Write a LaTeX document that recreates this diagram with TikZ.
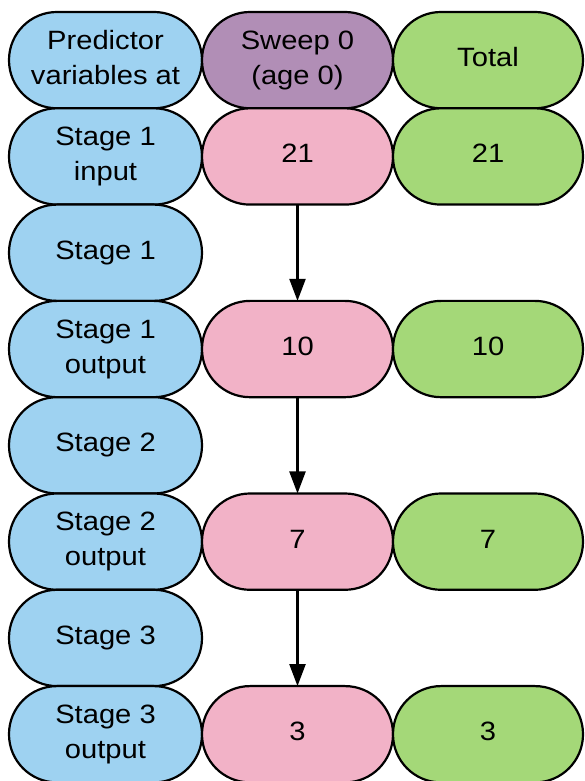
\documentclass[tikz,border=0pt]{standalone}
\usepackage{fontspec}
\setmainfont[FakeStretch=1.1]{Liberation Sans}
\usetikzlibrary{arrows.meta}
\definecolor{cblue}{RGB}{158,210,241}
\definecolor{cpurple}{RGB}{177,142,182}
\definecolor{cpink}{RGB}{242,178,199}
\definecolor{cgreen}{RGB}{164,216,120}
\begin{document}
\begin{tikzpicture}[x=1pt,y=1pt,
  cell/.style={draw=black, line width=2.2pt, rounded corners=48pt, minimum height=96.3pt,
    inner sep=0pt, outer sep=0pt, align=center, text=black, text depth=5.5pt,
    font=\fontsize{26.5}{35}\selectfont},
  lcell/.style={cell, fill=cblue, minimum width=193pt},
  mcell/.style={cell, fill=cpink, minimum width=191pt},
  rcell/.style={cell, fill=cgreen, minimum width=190pt},
  flow/.style={draw=black, line width=2.2pt, -{Triangle[width=16pt,length=22pt]}}
]
\useasboundingbox (0,0) rectangle (584,781);
\fill[white] (0,0) rectangle (584,781);
% row centres: y = 781 - (12 + 48.15 + k*96.3)
\def\rowy#1{781-60.15-#1*96.3}
\node[lcell] (l1) at (105.5,{\rowy{0}}) {Predictor\\variables at};
\node[cell, fill=cpurple, minimum width=191pt] (m1) at (297.5,{\rowy{0}}) {Sweep 0\\(age 0)};
\node[rcell] (r1) at (488,{\rowy{0}}) {Total};

\node[lcell] (l2) at (105.5,{\rowy{1}}) {Stage 1\\input};
\node[mcell] (m2) at (297.5,{\rowy{1}}) {21};
\node[rcell] (r2) at (488,{\rowy{1}}) {21};

\node[lcell] (l3) at (105.5,{\rowy{2}}) {Stage 1};

\node[lcell] (l4) at (105.5,{\rowy{3}}) {Stage 1\\output};
\node[mcell] (m4) at (297.5,{\rowy{3}}) {10};
\node[rcell] (r4) at (488,{\rowy{3}}) {10};

\node[lcell] (l5) at (105.5,{\rowy{4}}) {Stage 2};

\node[lcell] (l6) at (105.5,{\rowy{5}}) {Stage 2\\output};
\node[mcell] (m6) at (297.5,{\rowy{5}}) {7};
\node[rcell] (r6) at (488,{\rowy{5}}) {7};

\node[lcell] (l7) at (105.5,{\rowy{6}}) {Stage 3};

\node[lcell] (l8) at (105.5,{\rowy{7}}) {Stage 3\\output};
\node[mcell] (m8) at (297.5,{\rowy{7}}) {3};
\node[rcell] (r8) at (488,{\rowy{7}}) {3};

\draw[flow] (m2.south) -- (m4.north);
\draw[flow] (m4.south) -- (m6.north);
\draw[flow] (m6.south) -- (m8.north);
\end{tikzpicture}
\end{document}
